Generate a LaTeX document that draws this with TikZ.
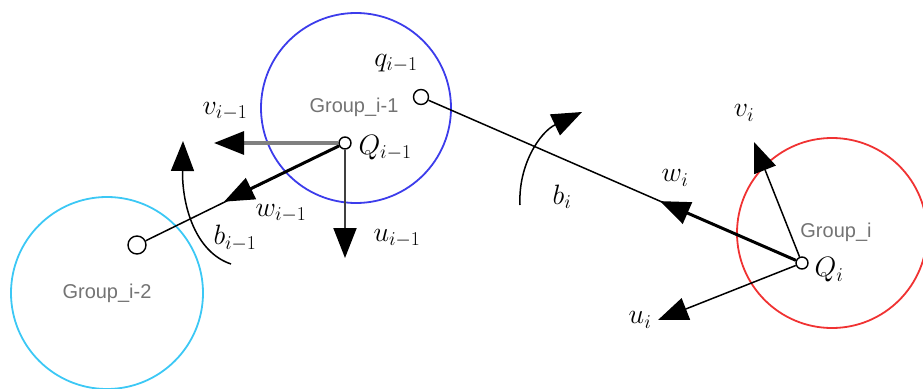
\RequirePackage{fix-cm}
\documentclass[tikz,border=0pt]{standalone}
\usepackage{fontspec}
\newfontfamily\grpfont{Liberation Sans}
\usetikzlibrary{arrows.meta}
\definecolor{cblue}{RGB}{60,60,235}
\definecolor{ccyan}{RGB}{60,200,245}
\definecolor{cred}{RGB}{240,50,50}
\tikzset{
  bigcirc/.style={circle, draw, line width=1.8pt, minimum size=#1, inner sep=0pt},
  dot/.style={circle, draw, line width=1.4pt, minimum size=#1, inner sep=0pt, fill=white},
  grp/.style={font=\grpfont\fontsize{20}{23}\selectfont, text=black!55},
  lab/.style={font=\fontsize{28}{32}\selectfont, inner sep=1pt},
  tipbig/.style={-{Triangle[length=30pt,width=23pt,color=black]}},
  thinarr/.style={tipbig, line width=1.5pt},
  thickarr/.style={tipbig, line width=3pt},
}
\begin{document}
\begin{tikzpicture}[x=1pt,y=-1pt]
\useasboundingbox (0,0) rectangle (923,388);
% group circles
\node[bigcirc=190pt, draw=cblue] (G1) at (356,108) {};
\node[bigcirc=192pt, draw=ccyan] (G2) at (107,293) {};
\node[bigcirc=190pt, draw=cred] (G0) at (832,233) {};
% group texts
\node[grp] (t1) at (354,107) {Group\_i-1};
\node[grp] (t2) at (107,293) {Group\_i-2};
\node[grp] (t0) at (836,232) {Group\_i};
% small circles
\node[dot=12pt] (Q1) at (345,143) {};
\node[dot=15pt] (q1) at (421,97) {};
\node[dot=18pt] (q2) at (137,245) {};
\node[dot=12pt] (Q0) at (802,263) {};
% tips
\coordinate (v1tip) at (214,143);
\coordinate (u1tip) at (345,258);
\coordinate (w1tip) at (224,201.7);
\coordinate (v0tip) at (754,142);
\coordinate (u0tip) at (658,320);
\coordinate (w0tip) at (660,201.1);
\coordinate (b1s) at (231,264);
\coordinate (b1t) at (183,141);
\coordinate (b0s) at (520,205);
\coordinate (b0t) at (582,112);
% connecting lines
\draw[line width=1.5pt] (q2) -- (Q1);
\draw[line width=1.5pt] (q1) -- (Q0);
% vectors group i-1
\draw[tipbig, line width=3.2pt, draw=black!50] (Q1) -- (v1tip);
\draw[thinarr, line width=2pt, draw=black!75] (Q1) -- (u1tip);
\draw[thickarr] (Q1) -- (w1tip);
% vectors group i
\draw[thinarr] (Q0) -- (v0tip);
\draw[thinarr] (Q0) -- (u0tip);
\draw[thickarr] (Q0) -- (w0tip);
% angle arcs
\draw[thinarr] (b1s) .. controls (195,252) and (182,205) .. (b1t);
\draw[thinarr] (b0s) .. controls (518,165) and (540,132) .. (b0t);
% labels
\node[lab] (Lq1) at (396,63) {$q_{i-1}$};
\node[lab] (LQ1) at (385,148) {$Q_{i-1}$};
\node[lab] (Lv1) at (225,111) {$v_{i-1}$};
\node[lab] (Lu1) at (397,238) {$u_{i-1}$};
\node[lab] (Lw1) at (281,213) {$w_{i-1}$};
\node[lab] (Lb1) at (235,238) {$b_{i-1}$};
\node[lab] (LQ0) at (829,270) {$Q_i$};
\node[lab] (Lv0) at (744,113) {$v_i$};
\node[lab] (Lu0) at (640,320) {$u_i$};
\node[lab] (Lw0) at (675,178) {$w_i$};
\node[lab] (Lb0) at (562,197) {$b_i$};
\end{tikzpicture}
\end{document}
